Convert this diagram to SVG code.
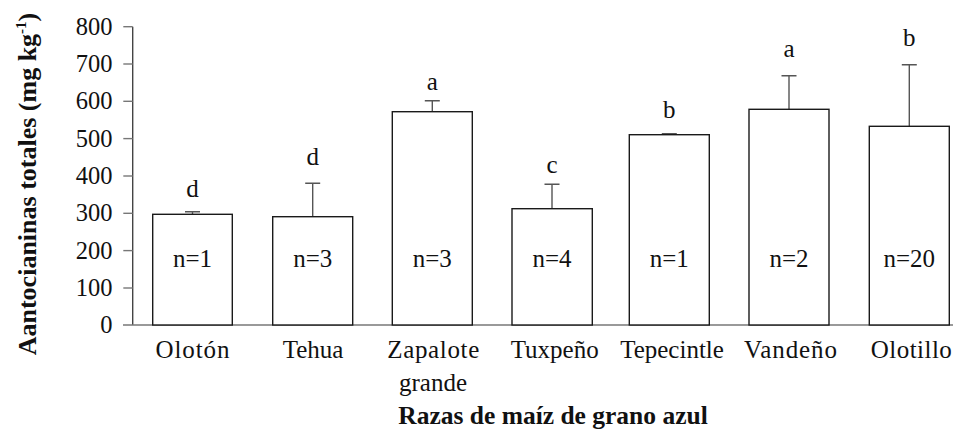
<svg xmlns="http://www.w3.org/2000/svg" width="954" height="434" viewBox="0 0 954 434">
<style>
.bar{fill:#fff;stroke:#1a1a1a;stroke-width:1.4}
.err{stroke:#555;stroke-width:1.4;fill:none}
.ax{stroke:#444;stroke-width:1.4;fill:none}
.axg{stroke:#777;stroke-width:1.4;fill:none}
</style>
<rect width="954" height="434" fill="#fff"/>
<g id="axes">
<line class="ax" x1="132.7" y1="26.7" x2="132.7" y2="325"/>
<line class="axg" x1="123" y1="325" x2="953" y2="325"/>
<g class="axg">
<line x1="123.3" y1="26.7" x2="132.7" y2="26.7"/>
<line x1="123.3" y1="64" x2="132.7" y2="64"/>
<line x1="123.3" y1="101.3" x2="132.7" y2="101.3"/>
<line x1="123.3" y1="138.6" x2="132.7" y2="138.6"/>
<line x1="123.3" y1="176" x2="132.7" y2="176"/>
<line x1="123.3" y1="213.3" x2="132.7" y2="213.3"/>
<line x1="123.3" y1="250.6" x2="132.7" y2="250.6"/>
<line x1="123.3" y1="288" x2="132.7" y2="288"/>
</g>
<g font-size="24.5" fill="#111" text-anchor="end">
<text font-family="Liberation Serif" x="112.5" y="34.7">800</text>
<text font-family="Liberation Serif" x="112.5" y="72">700</text>
<text font-family="Liberation Serif" x="112.5" y="109.3">600</text>
<text font-family="Liberation Serif" x="112.5" y="146.6">500</text>
<text font-family="Liberation Serif" x="112.5" y="184">400</text>
<text font-family="Liberation Serif" x="112.5" y="221.3">300</text>
<text font-family="Liberation Serif" x="112.5" y="258.6">200</text>
<text font-family="Liberation Serif" x="112.5" y="296">100</text>
<text font-family="Liberation Serif" x="112.5" y="333">0</text>
</g>
<g font-weight="bold" fill="#111" text-anchor="middle">
<text font-family="Liberation Serif" font-size="26" transform="translate(36,184) rotate(-90)">Aantocianinas totales (mg kg<tspan font-size="15" dy="-10">-1</tspan><tspan dy="10">)</tspan></text>
<text font-family="Liberation Serif" font-size="25.5" x="553" y="424">Razas de maíz de grano azul</text>
</g>
</g>
<g id="errorbars">
<path class="err" d="M192.5 214.3V211.7M185 211.7H200"/>
<path class="err" d="M312.7 216.7V183.3M305.2 183.3H320.2"/>
<path class="err" d="M432.3 111.7V100.7M424.8 100.7H439.8"/>
<path class="err" d="M552 208.7V184.3M544.5 184.3H559.5"/>
<path class="err" d="M669.3 134.7V133.7M661.8 133.7H676.8"/>
<path class="err" d="M789 109.3V75.7M781.5 75.7H796.5"/>
<path class="err" d="M909.3 126.3V64.7M901.8 64.7H916.8"/>
</g>
<g font-size="25" fill="#111" text-anchor="middle">
<g id="bar-oloton">
<rect class="bar" x="152.7" y="214.3" width="79.6" height="110.7"/>
<text font-family="Liberation Serif" x="192.5" y="196.7">d</text>
<text font-family="Liberation Serif" x="192.5" y="266.7">n=1</text>
<text font-family="Liberation Serif" x="192.5" y="358.3" textLength="74" lengthAdjust="spacing">Olotón</text>
</g>
<g id="bar-tehua">
<rect class="bar" x="272.7" y="216.7" width="80" height="108.3"/>
<text font-family="Liberation Serif" x="312.7" y="165">d</text>
<text font-family="Liberation Serif" x="312.7" y="266.7">n=3</text>
<text font-family="Liberation Serif" x="313" y="358.3">Tehua</text>
</g>
<g id="bar-zapalote">
<rect class="bar" x="392.3" y="111.7" width="80" height="213.3"/>
<text font-family="Liberation Serif" x="432.3" y="90">a</text>
<text font-family="Liberation Serif" x="432.3" y="266.7">n=3</text>
<text font-family="Liberation Serif" x="433.3" y="358.3" textLength="92" lengthAdjust="spacing">Zapalote</text>
<text font-family="Liberation Serif" x="433" y="391">grande</text>
</g>
<g id="bar-tuxpeno">
<rect class="bar" x="512" y="208.7" width="80.3" height="116.3"/>
<text font-family="Liberation Serif" x="552" y="173.3">c</text>
<text font-family="Liberation Serif" x="552" y="266.7">n=4</text>
<text font-family="Liberation Serif" x="554.7" y="358.3">Tuxpeño</text>
</g>
<g id="bar-tepecintle">
<rect class="bar" x="629.3" y="134.7" width="80" height="190.3"/>
<text font-family="Liberation Serif" x="669.3" y="118.3">b</text>
<text font-family="Liberation Serif" x="669.3" y="266.7">n=1</text>
<text font-family="Liberation Serif" x="672" y="358.3">Tepecintle</text>
</g>
<g id="bar-vandeno">
<rect class="bar" x="749" y="109.3" width="80" height="215.7"/>
<text font-family="Liberation Serif" x="789" y="56.7">a</text>
<text font-family="Liberation Serif" x="789" y="266.7">n=2</text>
<text font-family="Liberation Serif" x="790.5" y="358.3" textLength="93" lengthAdjust="spacing">Vandeño</text>
</g>
<g id="bar-olotillo">
<rect class="bar" x="869.3" y="126.3" width="80" height="198.7"/>
<text font-family="Liberation Serif" x="909.3" y="45.7">b</text>
<text font-family="Liberation Serif" x="909.3" y="266.7">n=20</text>
<text font-family="Liberation Serif" x="911.3" y="358.3" textLength="81" lengthAdjust="spacing">Olotillo</text>
</g>
</g>
</svg>
